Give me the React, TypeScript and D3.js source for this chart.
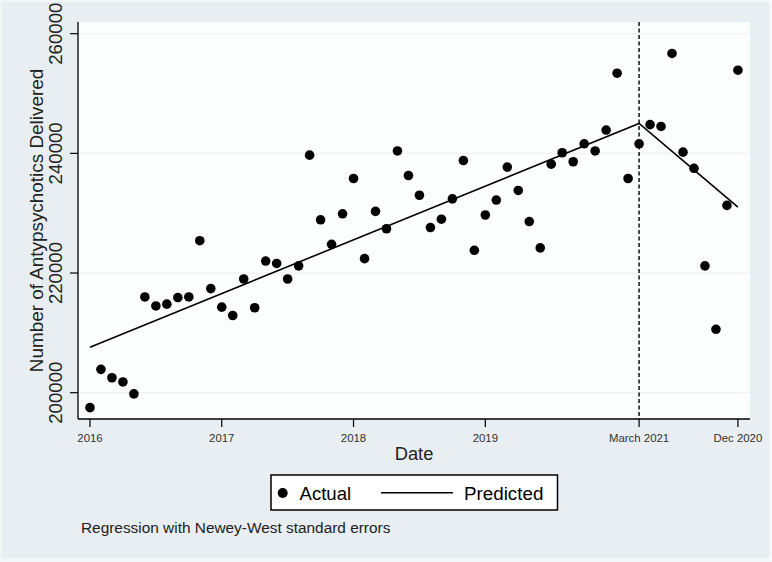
import React from "react";
import * as d3 from "d3";

// Month index 0 = Jan 2016 ... 59 = Dec 2020
const actualValues: number[] = [
  197500, 203900, 202500, 201800, 199800, 216000, 214500, 214800, 215900, 216000,
  225400, 217400, 214300, 212900, 219000, 214200, 222000, 221600, 219000, 221200,
  239700, 228900, 224800, 229900, 235800, 222400, 230300, 227400, 240400, 236300,
  233000, 227600, 229000, 232400, 238800, 223800, 229700, 232200, 237700, 233800,
  228600, 224200, 238200, 240100, 238600, 241600, 240400, 243900, 253400, 235800,
  241600, 244800, 244500, 256700, 240200, 237500, 221200, 210600, 231300, 253900,
];

const predictedMonths: number[] = [0, 50, 59];
const predictedValues: number[] = [207600, 245000, 231000];

const xTickMonths: number[] = [0, 12, 24, 36, 50, 59];
const xTickLabels: string[] = ["2016", "2017", "2018", "2019", "March 2021", "Dec 2020"];
const yTicks: number[] = [200000, 220000, 240000, 260000];
const interruptionMonth = 50;

const W = 772;
const H = 562;
const FONT = "'Liberation Sans', Arial, Helvetica, sans-serif";

export default function App() {
  const left = 78, right = 750, top = 22, bottom = 419;
  const x = d3.scaleLinear().domain([-1.09, 60.1]).range([left, right]);
  const y = d3.scaleLinear().domain([195605, 261953]).range([bottom, top]);

  const predLine = d3
    .line<number>()
    .x((_, i) => x(predictedMonths[i]))
    .y((d) => y(d));

  return (
    <svg
      width={W}
      height={H}
      style={{ position: "absolute", left: 0, top: 0, display: "block" }}
      fontFamily={FONT}
    >
      <rect x={0} y={0} width={W} height={H} fill="#f4f7f8" />
      <rect x={2} y={2} width={767} height={556} fill="#e8eef1" />
      {/* plot region */}
      <rect x={left} y={top} width={right - left} height={bottom - top} fill="#fcfdfd" />
      {/* gridlines */}
      {yTicks.map((t) => (
        <line key={"g" + t} x1={left} x2={right} y1={y(t)} y2={y(t)} stroke="#eef2f4" strokeWidth={1.2} />
      ))}
      {/* axes */}
      <line x1={left} x2={left} y1={top} y2={bottom} stroke="#000" strokeWidth={1.3} />
      <line x1={left} x2={right} y1={bottom} y2={bottom} stroke="#000" strokeWidth={1.3} />
      {yTicks.map((t) => (
        <g key={"y" + t}>
          <line x1={left - 8} x2={left} y1={y(t)} y2={y(t)} stroke="#000" strokeWidth={1.2} />
          <text
            x={62}
            y={y(t)}
            transform={`rotate(-90, 62, ${y(t)})`}
            textAnchor="middle"
            fontSize={18.6}
            fill="#222"
          >
            {t}
          </text>
        </g>
      ))}
      {xTickMonths.map((m, i) => (
        <g key={"x" + m}>
          <line x1={x(m)} x2={x(m)} y1={bottom} y2={bottom + 8} stroke="#000" strokeWidth={1.2} />
          <text x={x(m)} y={442} textAnchor="middle" fontSize={11.4} fill="#333">
            {xTickLabels[i]}
          </text>
        </g>
      ))}
      {/* axis titles */}
      <text x={414} y={460} textAnchor="middle" fontSize={18.3} fill="#222">
        Date
      </text>
      <text
        x={43}
        y={220.5}
        transform="rotate(-90, 43, 220.5)"
        textAnchor="middle"
        fontSize={18.9}
        fill="#222"
      >
        Number of Antypsychotics Delivered
      </text>
      {/* interruption line */}
      <line
        x1={x(interruptionMonth)}
        x2={x(interruptionMonth)}
        y1={top}
        y2={bottom}
        stroke="#000"
        strokeWidth={1.4}
        strokeDasharray="4,2.5"
      />
      {/* predicted */}
      <path d={predLine(predictedValues) || ""} fill="none" stroke="#000" strokeWidth={1.6} />
      {/* actual */}
      {actualValues.map((v, i) => (
        <circle key={"p" + i} cx={x(i)} cy={y(v)} r={4.8} fill="#000" />
      ))}
      {/* legend */}
      <rect x={271} y={475} width={286.5} height={35} fill="#fff" stroke="#000" strokeWidth={1.5} />
      <circle cx={282.7} cy={493} r={5} fill="#000" />
      <text x={299.5} y={500} fontSize={18.6} fill="#000">
        Actual
      </text>
      <line x1={381} x2={453} y1={492.7} y2={492.7} stroke="#000" strokeWidth={1.6} />
      <text x={464} y={500} fontSize={18.8} fill="#000">
        Predicted
      </text>
      <text x={81} y={532.5} fontSize={15.4} fill="#222">
        Regression with Newey-West standard errors
      </text>
    </svg>
  );
}
